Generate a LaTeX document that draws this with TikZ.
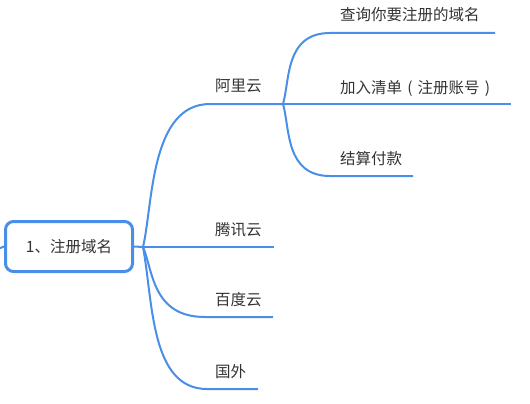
\documentclass[tikz,border=0pt]{standalone}
\usepackage{fontspec}
\newfontfamily\cjk{Noto Sans CJK SC}
\usepackage{tikz}
\usetikzlibrary{positioning}
\definecolor{lanse}{RGB}{74, 143, 231}
\definecolor{wenzi}{RGB}{51, 51, 51}
\newcommand{\quankuo}[1]{\makebox[1em][c]{#1}}
\tikzset{
    rootbox/.style={draw=lanse, line width=3pt, rounded corners=8pt, fill=white, text=wenzi,
                    minimum width=127pt, minimum height=50pt, inner sep=0pt, font=\cjk\fontsize{15.5}{18}\selectfont},
    lbl/.style={anchor=base west, inner sep=0pt, text=wenzi, font=\cjk\fontsize{15.5}{18}\selectfont},
    conn/.style={-, lanse, line width=2pt},
}

\begin{document}
\begin{tikzpicture}[x=1pt, y=-1pt]
            \useasboundingbox (0,0) rectangle (530,404);

            % hubs and line ends
            \coordinate (in) at (-2,249);
            \coordinate (hubA) at (143,247);
            \coordinate (ali) at (283,104);
            \coordinate (tx) at (274,247);
            \coordinate (bd) at (273,317);
            \coordinate (gw) at (258,389);
            \coordinate (cx) at (495,33);
            \coordinate (jr) at (511,104);
            \coordinate (js) at (413,176);

            \node[rootbox] (r) at (69,246.5) {1、注册域名};

            \node[lbl] (aliT) at (215,92) {阿里云};
            \node[lbl] (txT) at (215,235) {腾讯云};
            \node[lbl] (bdT) at (215,305) {百度云};
            \node[lbl] (gwT) at (215,377) {国外};
            \node[lbl] (cxT) at (340,21) {查询你要注册的域名};
            \node[lbl] (jrT) at (340,93) {加入清单\quankuo{(}注册账号\quankuo{)}};
            \node[lbl] (jsT) at (340,164) {结算付款};

            \draw[conn] (in) -- (r.west);
            \draw[conn] (r.east) -- (hubA);
            \draw[conn] (hubA) .. controls (153,205) and (150,104) .. (210,104) -- (ali);
            \draw[conn] (hubA) -- (tx);
            \draw[conn] (hubA) .. controls (153,270) and (152,317) .. (205,317) -- (bd);
            \draw[conn] (hubA) .. controls (153,300) and (150,389) .. (207,389) -- (gw);
            \draw[conn] (ali) .. controls (290,80) and (285,33) .. (330,33) -- (cx);
            \draw[conn] (ali) -- (jr);
            \draw[conn] (ali) .. controls (290,128) and (285,176) .. (330,176) -- (js);
        \end{tikzpicture}
\end{document}
